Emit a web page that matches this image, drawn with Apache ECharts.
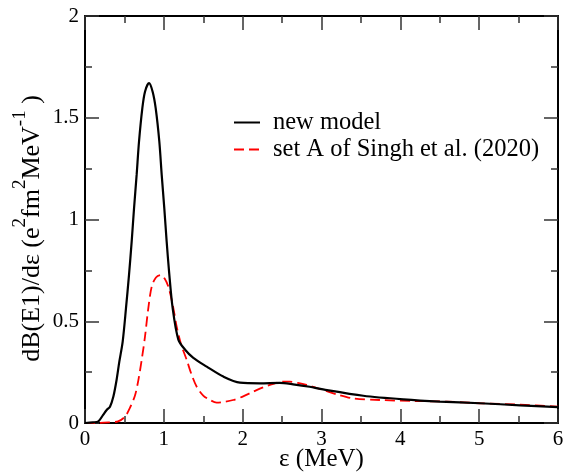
<!DOCTYPE html>
<html><head><meta charset="utf-8">
<script src="https://cdn.jsdelivr.net/npm/echarts@6/dist/echarts.min.js"></script>
<style>html,body{margin:0;padding:0;background:#fff}#c{width:574px;height:474px}</style>
</head><body><div id="c"></div>
<script>
const seriesNames = ['new model', 'set A of Singh et al. (2020)'];
const newModel = [
  [0,0],[0.1,0.003],[0.17,0.008],[0.23,0.04],[0.275,0.064],[0.317,0.08],[0.36,0.13],
  [0.40,0.21],[0.435,0.30],[0.478,0.40],[0.52,0.564],[0.558,0.727],[0.592,0.891],
  [0.622,1.055],[0.655,1.219],[0.685,1.382],[0.727,1.546],[0.761,1.628],[0.812,1.67],
  [0.858,1.628],[0.897,1.546],[0.943,1.382],[0.973,1.219],[1.006,1.055],[1.036,0.891],
  [1.065,0.75],[1.112,0.564],[1.184,0.41],[1.27,0.36],[1.374,0.32],[1.544,0.277],
  [1.755,0.228],[1.966,0.198],[2.22,0.195],[2.47,0.197],[2.64,0.19],[2.85,0.178],
  [3.02,0.165],[3.53,0.134],[4.04,0.116],[4.5,0.105],[5.01,0.097],[5.52,0.087],[6,0.078]
];
const singhA = [
  [0,0],[0.13,0],[0.3,0.003],[0.42,0.008],[0.507,0.031],[0.571,0.075],[0.634,0.135],
  [0.677,0.211],[0.719,0.31],[0.761,0.424],[0.80,0.555],[0.846,0.67],[0.90,0.715],
  [0.96,0.727],[1.01,0.71],[1.057,0.67],[1.10,0.604],[1.133,0.539],[1.163,0.473],
  [1.22,0.385],[1.29,0.31],[1.35,0.24],[1.417,0.178],[1.5,0.135],[1.586,0.113],
  [1.67,0.10],[1.77,0.104],[1.88,0.113],[2.0,0.13],[2.135,0.154],[2.26,0.175],
  [2.39,0.192],[2.5,0.203],[2.6,0.203],[2.7,0.197],[2.81,0.187],[3.02,0.162],
  [3.2,0.14],[3.4,0.121],[3.74,0.113],[4.17,0.108],[4.59,0.105],[5.01,0.097],
  [5.52,0.09],[6,0.08]
];
const xTicks = [0,1,2,3,4,5,6];
const yTicks = [0,0.5,1,1.5,2];

const FONT = "'Liberation Serif', 'DejaVu Serif', serif";
function axisCommon() {
  return {
    axisLine: {show: true, onZero: false, lineStyle: {color: '#000', width: 2}},
    axisTick: {show: true, inside: true, length: 14, lineStyle: {color: '#333', width: 1.5}},
    minorTick: {show: true, splitNumber: 2, length: 7, lineStyle: {color: '#333', width: 1.5}},
    splitLine: {show: false}
  };
}
const chart = echarts.init(document.getElementById('c'));
chart.setOption({
  animation: false,
  backgroundColor: '#fff',
  grid: {left: 85, right: 16, top: 16, bottom: 51, containLabel: false, outerBoundsMode: 'none'},
  legend: {
    orient: 'vertical', left: 233, top: 110, padding: 0, itemWidth: 26, itemHeight: 24, itemGap: 2,
    itemStyle: {opacity: 0},
    textStyle: {fontFamily: FONT, fontSize: 24.5, color: '#000', padding: [0,0,0,8]},
    data: seriesNames
  },
  xAxis: [
    Object.assign({type: 'value', min: xTicks[0], max: xTicks[xTicks.length-1], interval: 1,
      position: 'bottom', name: 'ε (MeV)', nameLocation: 'middle', nameGap: 24, nameMoveOverlap: false,
      nameTextStyle: {fontFamily: FONT, fontSize: 25, color: '#000'},
      axisLabel: {fontFamily: FONT, fontSize: 21, color: '#000', margin: 6}}, axisCommon()),
    Object.assign({type: 'value', min: xTicks[0], max: xTicks[xTicks.length-1], interval: 1,
      position: 'top', axisLabel: {show: false}}, axisCommon())
  ],
  yAxis: [
    Object.assign({type: 'value', min: yTicks[0], max: yTicks[yTicks.length-1], interval: 0.5,
      position: 'left', name: '{b|dB(E1)/dε (e}{s|2}{b|fm}{s|2}{b|MeV}{s|-1}{b| )}',
      nameLocation: 'middle', nameGap: 40, nameRotate: 90, nameMoveOverlap: false,
      nameTextStyle: {fontFamily: FONT, fontSize: 26, color: '#000', padding: [0,18,0,0],
        rich: {
          b: {fontFamily: FONT, fontSize: 26, color: '#000', lineHeight: 34, verticalAlign: 'bottom'},
          s: {fontFamily: FONT, fontSize: 19, color: '#000', lineHeight: 34, verticalAlign: 'top'}
        }},
      axisLabel: {fontFamily: FONT, fontSize: 21, color: '#000', margin: 6}}, axisCommon()),
    Object.assign({type: 'value', min: yTicks[0], max: yTicks[yTicks.length-1], interval: 0.5,
      position: 'right', axisLabel: {show: false}}, axisCommon())
  ],
  series: [
    {name: seriesNames[0], type: 'line', data: newModel, smooth: 0.3, symbol: 'none',
      lineStyle: {color: '#000', width: 2.2}, itemStyle: {color: '#000'}, z: 3},
    {name: seriesNames[1], type: 'line', data: singhA, smooth: 0.3, symbol: 'none',
      lineStyle: {color: '#ff0000', width: 1.8, type: [10,5]}, itemStyle: {color: '#ff0000'}, z: 2}
  ]
});
</script></body></html>
